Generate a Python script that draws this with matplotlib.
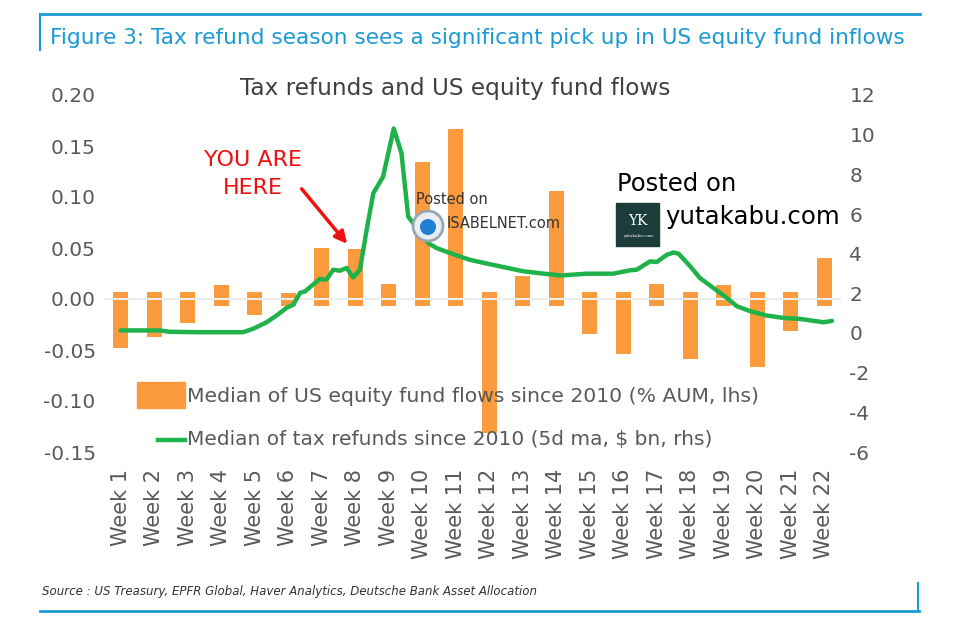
import matplotlib
matplotlib.use("Agg")
import matplotlib.pyplot as plt
from matplotlib.lines import Line2D
from matplotlib.patches import Rectangle, Ellipse
import numpy as np

plt.rcParams["axes.unicode_minus"] = False

# data
weeks = ["Week %d" % i for i in range(1, 23)]
fund_flows = [-0.048, -0.037, -0.024, 0.014, -0.016, 0.006, 0.050, 0.049, 0.015, 0.134, 0.167,
              -0.131, 0.023, 0.106, -0.034, -0.054, 0.015, -0.059, 0.014, -0.067, -0.031, 0.040]

line_pos = [1.0, 2.16, 2.46, 3.36, 4.65, 4.95, 5.35, 5.65, 5.95, 6.15, 6.35, 6.50, 6.74, 6.94,
            7.14, 7.34, 7.54, 7.74, 7.94, 8.14, 8.34, 8.54, 8.83, 9.15, 9.38, 9.58, 10.18, 10.43,
            10.83, 11.42, 12.32, 13.02, 14.12, 14.91, 15.70, 16.20, 16.40, 16.80, 17.00, 17.30,
            17.50, 17.65, 18.00, 18.29, 18.69, 19.09, 19.39, 19.79, 20.29, 20.78, 21.28, 21.98, 22.23]
tax_refunds = [0.13, 0.13, 0.06, 0.04, 0.04, 0.21, 0.54, 0.88, 1.27, 1.43, 2.02, 2.10, 2.44, 2.72,
               2.69, 3.19, 3.14, 3.28, 2.80, 3.19, 5.20, 7.05, 7.88, 10.31, 9.06, 5.87, 4.53, 4.28,
               4.03, 3.69, 3.36, 3.11, 2.90, 2.99, 2.99, 3.16, 3.19, 3.61, 3.58, 3.94,
               4.06, 4.00, 3.36, 2.77, 2.27, 1.77, 1.35, 1.10, 0.88, 0.76, 0.71, 0.54, 0.61]

left_ticks = [-0.15, -0.10, -0.05, 0.00, 0.05, 0.10, 0.15, 0.20]
right_ticks = [-6, -4, -2, 0, 2, 4, 6, 8, 10, 12]

W, H = 970, 619
ORANGE = "#fb9b3d"
GREEN = "#1fb24a"
BLUE = "#1b9ad6"
GREY = "#595959"
RED = "#ee1111"

def fx(x):
    return x / W

def fy(y):
    return 1 - y / H

fig = plt.figure(figsize=(W / 100, H / 100), dpi=100)
ax = fig.add_axes([fx(104), fy(452), (841 - 104) / W, (452 - 95) / H])

# bars overlap the zero line a little, as in the original
pad = 0.007
x = np.arange(1, len(weeks) + 1)
vals = np.array(fund_flows)
bottoms = np.where(vals >= 0, -pad, pad)
ax.bar(x, vals - bottoms, bottom=bottoms, width=0.46, color=ORANGE, zorder=2)
ax.axhline(0, color="#ececec", lw=1.5, zorder=3)

ax.set_xlim(0.5, 22.5)
ax.set_ylim(-0.15, 0.20)
ax.set_yticks(left_ticks)
ax.set_yticklabels(["%.2f" % t for t in left_ticks])
ax.set_xticks(x)
ax.set_xticklabels(weeks, rotation=90, fontsize=15, color=GREY)
ax.tick_params(axis="y", labelsize=14.5, colors=GREY, length=0, pad=6)
ax.tick_params(axis="x", length=0, pad=12)
for s in ax.spines.values():
    s.set_visible(False)

ax2 = ax.twinx()
ax2.plot(line_pos, tax_refunds, color=GREEN, lw=3.2, solid_capstyle="round", zorder=4)
ax2.set_ylim(-6, 12)
ax2.set_yticks(right_ticks)
ax2.tick_params(axis="y", labelsize=14.5, colors=GREY, length=0, pad=6)
for s in ax2.spines.values():
    s.set_visible(False)

# header and frame
fig.text(fx(50), fy(38), "Figure 3: Tax refund season sees a significant pick up in US equity fund inflows",
         color=BLUE, fontsize=15.6, va="center", ha="left")
fig.add_artist(Line2D([fx(40), fx(920)], [fy(14), fy(14)], color=BLUE, lw=2))
fig.add_artist(Line2D([fx(40), fx(40)], [fy(14), fy(50)], color=BLUE, lw=1.5))
fig.add_artist(Line2D([fx(40), fx(919)], [fy(611), fy(611)], color=BLUE, lw=2))
fig.add_artist(Line2D([fx(918), fx(918)], [fy(583), fy(611)], color=BLUE, lw=1.5))
fig.text(fx(42), fy(591), "Source : US Treasury, EPFR Global, Haver Analytics, Deutsche Bank Asset Allocation",
         fontsize=8.5, style="italic", color="#333333", va="center")

fig.text(fx(455), fy(88), "Tax refunds and US equity fund flows", fontsize=16.7, color="#404040",
         ha="center", va="center")

# legend
fig.add_artist(Rectangle((fx(137), fy(408)), (185 - 137) / W, (408 - 382) / H, color=ORANGE))
fig.text(fx(187), fy(396), "Median of US equity fund flows since 2010 (% AUM, lhs)",
         fontsize=14.7, color=GREY, va="center")
fig.add_artist(Line2D([fx(158), fx(185)], [fy(440), fy(440)], color=GREEN, lw=3.2))
fig.text(fx(187), fy(440), "Median of tax refunds since 2010 (5d ma, $ bn, rhs)",
         fontsize=14.5, color=GREY, va="center")

# annotation
fig.text(fx(253), fy(160), "YOU ARE", color=RED, fontsize=16, ha="center", va="center")
fig.text(fx(253), fy(188), "HERE", color=RED, fontsize=16, ha="center", va="center")
ax.annotate("", xy=(7.76, 0.054), xytext=(6.40, 0.108),
            arrowprops=dict(arrowstyle="-|>", color=RED, lw=2.5, mutation_scale=18,
                            shrinkA=0, shrinkB=0),
            annotation_clip=False, zorder=6)

# watermarks
fig.text(fx(416), fy(199), "Posted on", fontsize=10.5, color="#333333", va="center")
fig.text(fx(447), fy(223), "ISABELNET.com", fontsize=10.5, color="#333333", va="center")
fig.add_artist(Ellipse((fx(428), fy(226)), 30 / W, 30 / H, facecolor="#e9eef2",
                       edgecolor="#9aa7b0", lw=2))
fig.add_artist(Ellipse((fx(428), fy(227)), 16 / W, 16 / H, facecolor="#1f7fd0", edgecolor="none"))

fig.text(fx(617), fy(184), "Posted on", fontsize=17.5, color="black", va="center")
fig.add_artist(Rectangle((fx(616), fy(246)), 43 / W, 43 / H, color="#1c3c39"))
fig.text(fx(637.5), fy(221), "YK", fontsize=10, color="white", family="DejaVu Serif",
         ha="center", va="center")
fig.text(fx(637.5), fy(236), "yutakabu.com", fontsize=3, color="white", family="DejaVu Serif",
         ha="center", va="center")
fig.text(fx(665), fy(217), "yutakabu.com", fontsize=17.6, color="black", va="center")

fig.savefig("out.png", dpi=100)
